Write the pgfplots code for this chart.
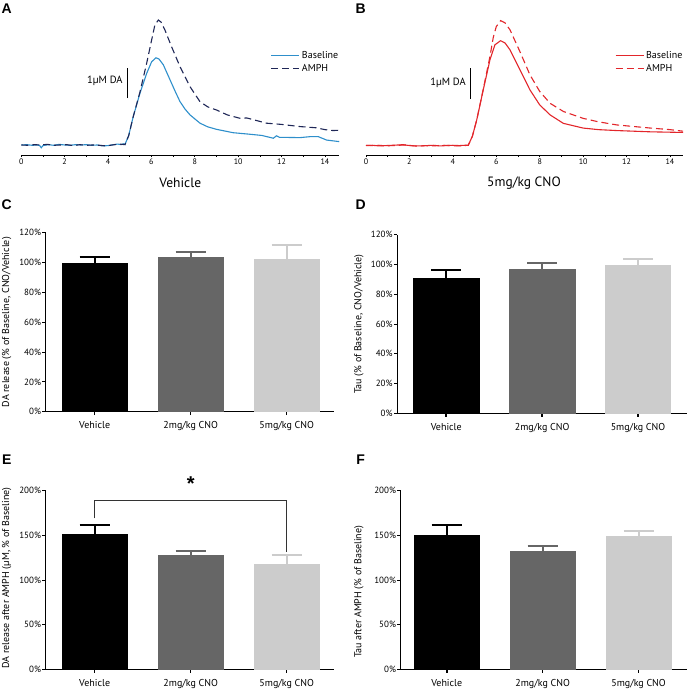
\documentclass[border=0pt]{standalone}
\usepackage{pgfplots}
\pgfplotsset{compat=1.18}
\usepackage{fontspec}
\setmainfont{PT Sans}
\newfontfamily\letterfont{Liberation Sans}
\definecolor{baseblue}{HTML}{2E8FCB}
\definecolor{amphnavy}{HTML}{1F2757}
\definecolor{tracered}{HTML}{E2262B}
\definecolor{midgray}{HTML}{666666}
\definecolor{lightgray}{HTML}{CCCCCC}

\pgfplotsset{
  tracestyle/.style={
    scale only axis, anchor=south west, clip=false,
    axis x line=bottom, axis y line=none,
    axis line style={-, line width=0.8pt},
    xtick={0,2,...,14}, minor xtick={1,3,...,15},
    tick style={black, line width=0.6pt},
    major tick length=2.5pt, minor tick length=2pt, tick align=outside,
    /pgf/number format/assume math mode=true,
    xticklabel style={font=\fontsize{8}{9}\selectfont, inner sep=1.5pt},
    legend cell align=left,
    legend style={draw=none, fill=none, anchor=north west,
      font=\fontsize{10}{11}\selectfont, row sep=0pt,
      inner sep=0pt, nodes={inner sep=2pt}},
    legend image code/.code={\draw[##1] (0pt,0pt) -- (28pt,0pt);},
  },
  barstyle/.style={
    scale only axis, anchor=south west, ymin=0,
    axis x line=bottom, axis y line=left,
    axis line style={-, line width=0.9pt},
    xtick={0,1,2}, xticklabels={Vehicle, 2mg/kg CNO, 5mg/kg CNO},
    tick align=outside, major tick length=3.5pt,
    x tick style={black, line width=1.6pt},
    y tick style={black, line width=0.8pt},
    /pgf/number format/assume math mode=true,
    yticklabel={\pgfmathprintnumber{\tick}\%},
    yticklabel style={font=\fontsize{9}{10}\selectfont, inner sep=1pt},
    xticklabel style={font=\fontsize{10}{11}\selectfont, yshift=-3pt},
  },
}
\newcommand\gbar[4]{%
  \addplot[ybar, bar width=0.68, bar shift=0pt, fill=#1, draw=#1,
    error bars/.cd, y dir=plus, y explicit,
    error bar style={line width=2pt, #1},
    error mark options={#1, rotate=90, line width=2pt, mark size=15pt}]
    coordinates {(#2,#3) +- (0,#4)};}

\begin{document}
\begin{tikzpicture}
\useasboundingbox (0,0) rectangle (688pt,691pt);

% ---- A ----
\begin{axis}[tracestyle, at={(21.3pt,536pt)}, width=317.7pt, height=145pt,
  xmin=0, xmax=14.65, ymin=-0.326, ymax=4.397,
  legend style={at={(0.785,0.73)}}]
\addplot[baseblue, line width=1.1pt] coordinates {
(0,0.00)(0.25,0.01)(0.5,-0.01)(0.75,0.00)(0.85,-0.02)(0.92,-0.09)(1.0,-0.02)
(1.25,0.01)(1.5,-0.01)(1.75,0.02)(2.0,0.00)(2.25,-0.01)(2.5,0.01)(2.75,0.00)
(3.0,0.01)(3.25,-0.01)(3.5,0.00)(3.75,-0.03)(4.0,-0.02)(4.25,0.01)(4.45,0.03)
(4.6,0.01)(4.7,0.04)(4.78,0.02)(4.95,0.30)(5.16,0.92)(5.47,1.68)(5.78,2.33)
(6.01,2.71)(6.21,2.84)(6.35,2.80)(6.55,2.61)(6.86,2.12)(7.1,1.74)(7.32,1.41)
(7.55,1.17)(7.78,0.98)(8.24,0.71)(8.6,0.59)(9.0,0.51)(9.77,0.40)(10.54,0.35)
(11.1,0.31)(11.62,0.22)(11.77,0.30)(11.9,0.25)(12.85,0.24)(13.3,0.27)
(13.7,0.27)(14.08,0.16)(14.66,0.11)};
\addlegendentry{Baseline}
\addplot[amphnavy, line width=1.1pt, dash pattern=on 7pt off 4pt] coordinates {
(0,0.00)(0.3,-0.01)(0.6,0.01)(0.9,0.00)(1.2,0.02)(1.5,-0.01)(1.8,0.00)
(2.1,0.01)(2.4,-0.02)(2.7,0.01)(3.0,-0.01)(3.3,0.00)(3.6,-0.01)(3.9,-0.03)
(4.2,0.00)(4.5,0.03)(4.65,0.02)(4.78,0.01)(4.95,0.30)(5.16,0.92)(5.47,1.72)
(5.78,2.66)(6.01,3.42)(6.16,3.91)(6.32,4.07)(6.45,4.00)(6.62,3.75)(6.93,3.20)
(7.32,2.55)(7.78,1.90)(8.24,1.41)(8.6,1.24)(9.0,1.14)(9.5,0.98)(10.08,0.87)
(10.4,0.88)(11.31,0.71)(12.0,0.67)(12.85,0.60)(13.6,0.56)(14.0,0.50)
(14.38,0.47)(14.65,0.48)};
\addlegendentry{AMPH}
\draw[line width=0.9pt] (axis cs:4.9,1.53) -- (axis cs:4.9,2.51);
\node[anchor=east, font=\fontsize{10.5}{11}\selectfont, inner sep=0pt]
  at (axis cs:4.68,2.08) {1µM DA};
\end{axis}

% ---- B ----
\begin{axis}[tracestyle, at={(366pt,536pt)}, width=317pt, height=145pt,
  xmin=0, xmax=14.6, ymin=-0.30, ymax=4.33,
  legend style={at={(0.785,0.73)}}]
\addplot[tracered, line width=1.1pt] coordinates {
(0,0.00)(0.3,0.01)(0.6,-0.01)(0.9,0.00)(1.2,0.01)(1.5,0.02)(1.7,0.03)(1.9,0.01)
(2.2,-0.01)(2.5,-0.01)(2.8,0.00)(3.1,0.01)(3.4,-0.01)(3.7,0.00)(4.0,0.01)
(4.3,0.00)(4.55,0.01)(4.71,0.01)(4.9,0.30)(5.1,0.82)(5.4,1.78)(5.71,2.74)
(5.94,3.22)(6.2,3.35)(6.4,3.28)(6.63,3.06)(7.09,2.42)(7.55,1.78)(8.0,1.30)
(8.48,0.98)(9.09,0.71)(10.0,0.56)(10.7,0.51)(11.55,0.48)(13.1,0.44)(14.6,0.42)};
\addlegendentry{Baseline}
\addplot[tracered, line width=1.1pt, dash pattern=on 7pt off 4pt] coordinates {
(0,0.01)(0.3,0.00)(0.6,0.01)(0.9,-0.01)(1.2,0.00)(1.5,0.01)(1.8,0.02)(2.1,0.00)
(2.4,-0.02)(2.7,0.00)(3.0,-0.01)(3.3,0.00)(3.6,0.01)(3.9,0.00)(4.2,-0.01)
(4.5,0.00)(4.71,0.01)(4.9,0.30)(5.1,0.82)(5.4,1.80)(5.71,2.85)(5.86,3.45)
(6.0,3.80)(6.2,3.99)(6.4,3.92)(6.63,3.70)(7.09,3.00)(7.55,2.26)(8.0,1.73)
(8.48,1.35)(9.09,1.09)(10.0,0.87)(10.7,0.76)(11.55,0.66)(13.1,0.56)(14.0,0.51)
(14.6,0.46)};
\addlegendentry{AMPH}
\draw[line width=0.9pt] (axis cs:4.82,1.49) -- (axis cs:4.82,2.47);
\node[anchor=east, font=\fontsize{10.5}{11}\selectfont, inner sep=0pt]
  at (axis cs:4.6,2.0) {1µM DA};
\end{axis}

% ---- C ----
\begin{axis}[barstyle, at={(45.7pt,279.3pt)}, width=288.3pt, height=179pt,
  xmin=-0.51, xmax=2.493, ymax=120, ytick={0,20,...,120}]
\gbar{black}{0}{99.4}{4.3}
\gbar{midgray}{1}{103.5}{3.5}
\gbar{lightgray}{2}{101.9}{10.1}
\end{axis}

% ---- D ----
\begin{axis}[barstyle, at={(397.3pt,277.7pt)}, width=289.7pt, height=178.6pt,
  xmin=-0.511, xmax=2.511, ymax=120, ytick={0,20,...,120}]
\gbar{black}{0}{91.1}{5.2}
\gbar{midgray}{1}{96.7}{4.0}
\gbar{lightgray}{2}{99.2}{4.5}
\end{axis}

% ---- E ----
\begin{axis}[barstyle, at={(45.7pt,21.7pt)}, width=288.3pt, height=178.6pt,
  xmin=-0.51, xmax=2.493, ymax=200, ytick={0,50,...,200}, clip=false]
\gbar{black}{0}{151.5}{10.1}
\gbar{midgray}{1}{127.6}{5.2}
\gbar{lightgray}{2}{117.5}{10.5}
\addplot[black!80, line width=0.8pt, mark=none] coordinates {
  (0,169) (0,189.2) (2,189.2) (2,131.7)};
\node[font=\letterfont\fontsize{20}{20}\selectfont\bfseries] at (axis cs:1,208) {*};
\end{axis}

% ---- F ----
\begin{axis}[barstyle, at={(400.7pt,21.7pt)}, width=286.3pt, height=178.6pt,
  xmin=-0.48, xmax=2.505, ymax=200, ytick={0,50,...,200}]
\gbar{black}{0}{150.0}{11.2}
\gbar{midgray}{1}{131.7}{6.4}
\gbar{lightgray}{2}{148.9}{6.3}
\end{axis}

% ---- labels ----
\node[font=\fontsize{13.5}{15}\selectfont] at (180.3pt,508.3pt) {Vehicle};
\node[font=\fontsize{13.5}{15}\selectfont] at (524pt,508.3pt) {5mg/kg CNO};
\foreach \t/\x/\y in {A/6.7/682.7, B/360.7/682.7, C/6.7/486, D/360.7/486,
                      E/6.7/231, F/360.7/231}
  \node[font=\letterfont\fontsize{14}{14}\selectfont\bfseries] at (\x pt,\y pt) {\t};
\node[rotate=90, font=\fontsize{10}{11}\selectfont] at (6.7pt,368.8pt)
  {DA release (\% of Baseline, CNO/Vehicle)};
\node[rotate=90, font=\fontsize{10}{11}\selectfont] at (359pt,367pt)
  {Tau (\% of Baseline, CNO/Vehicle)};
\node[rotate=90, font=\fontsize{10}{11}\selectfont] at (6.7pt,113pt)
  {DA release after AMPH (µM, \% of Baseline)};
\node[rotate=90, font=\fontsize{10}{11}\selectfont] at (359pt,99.3pt)
  {Tau after AMPH (\% of Baseline)};
\end{tikzpicture}
\end{document}
